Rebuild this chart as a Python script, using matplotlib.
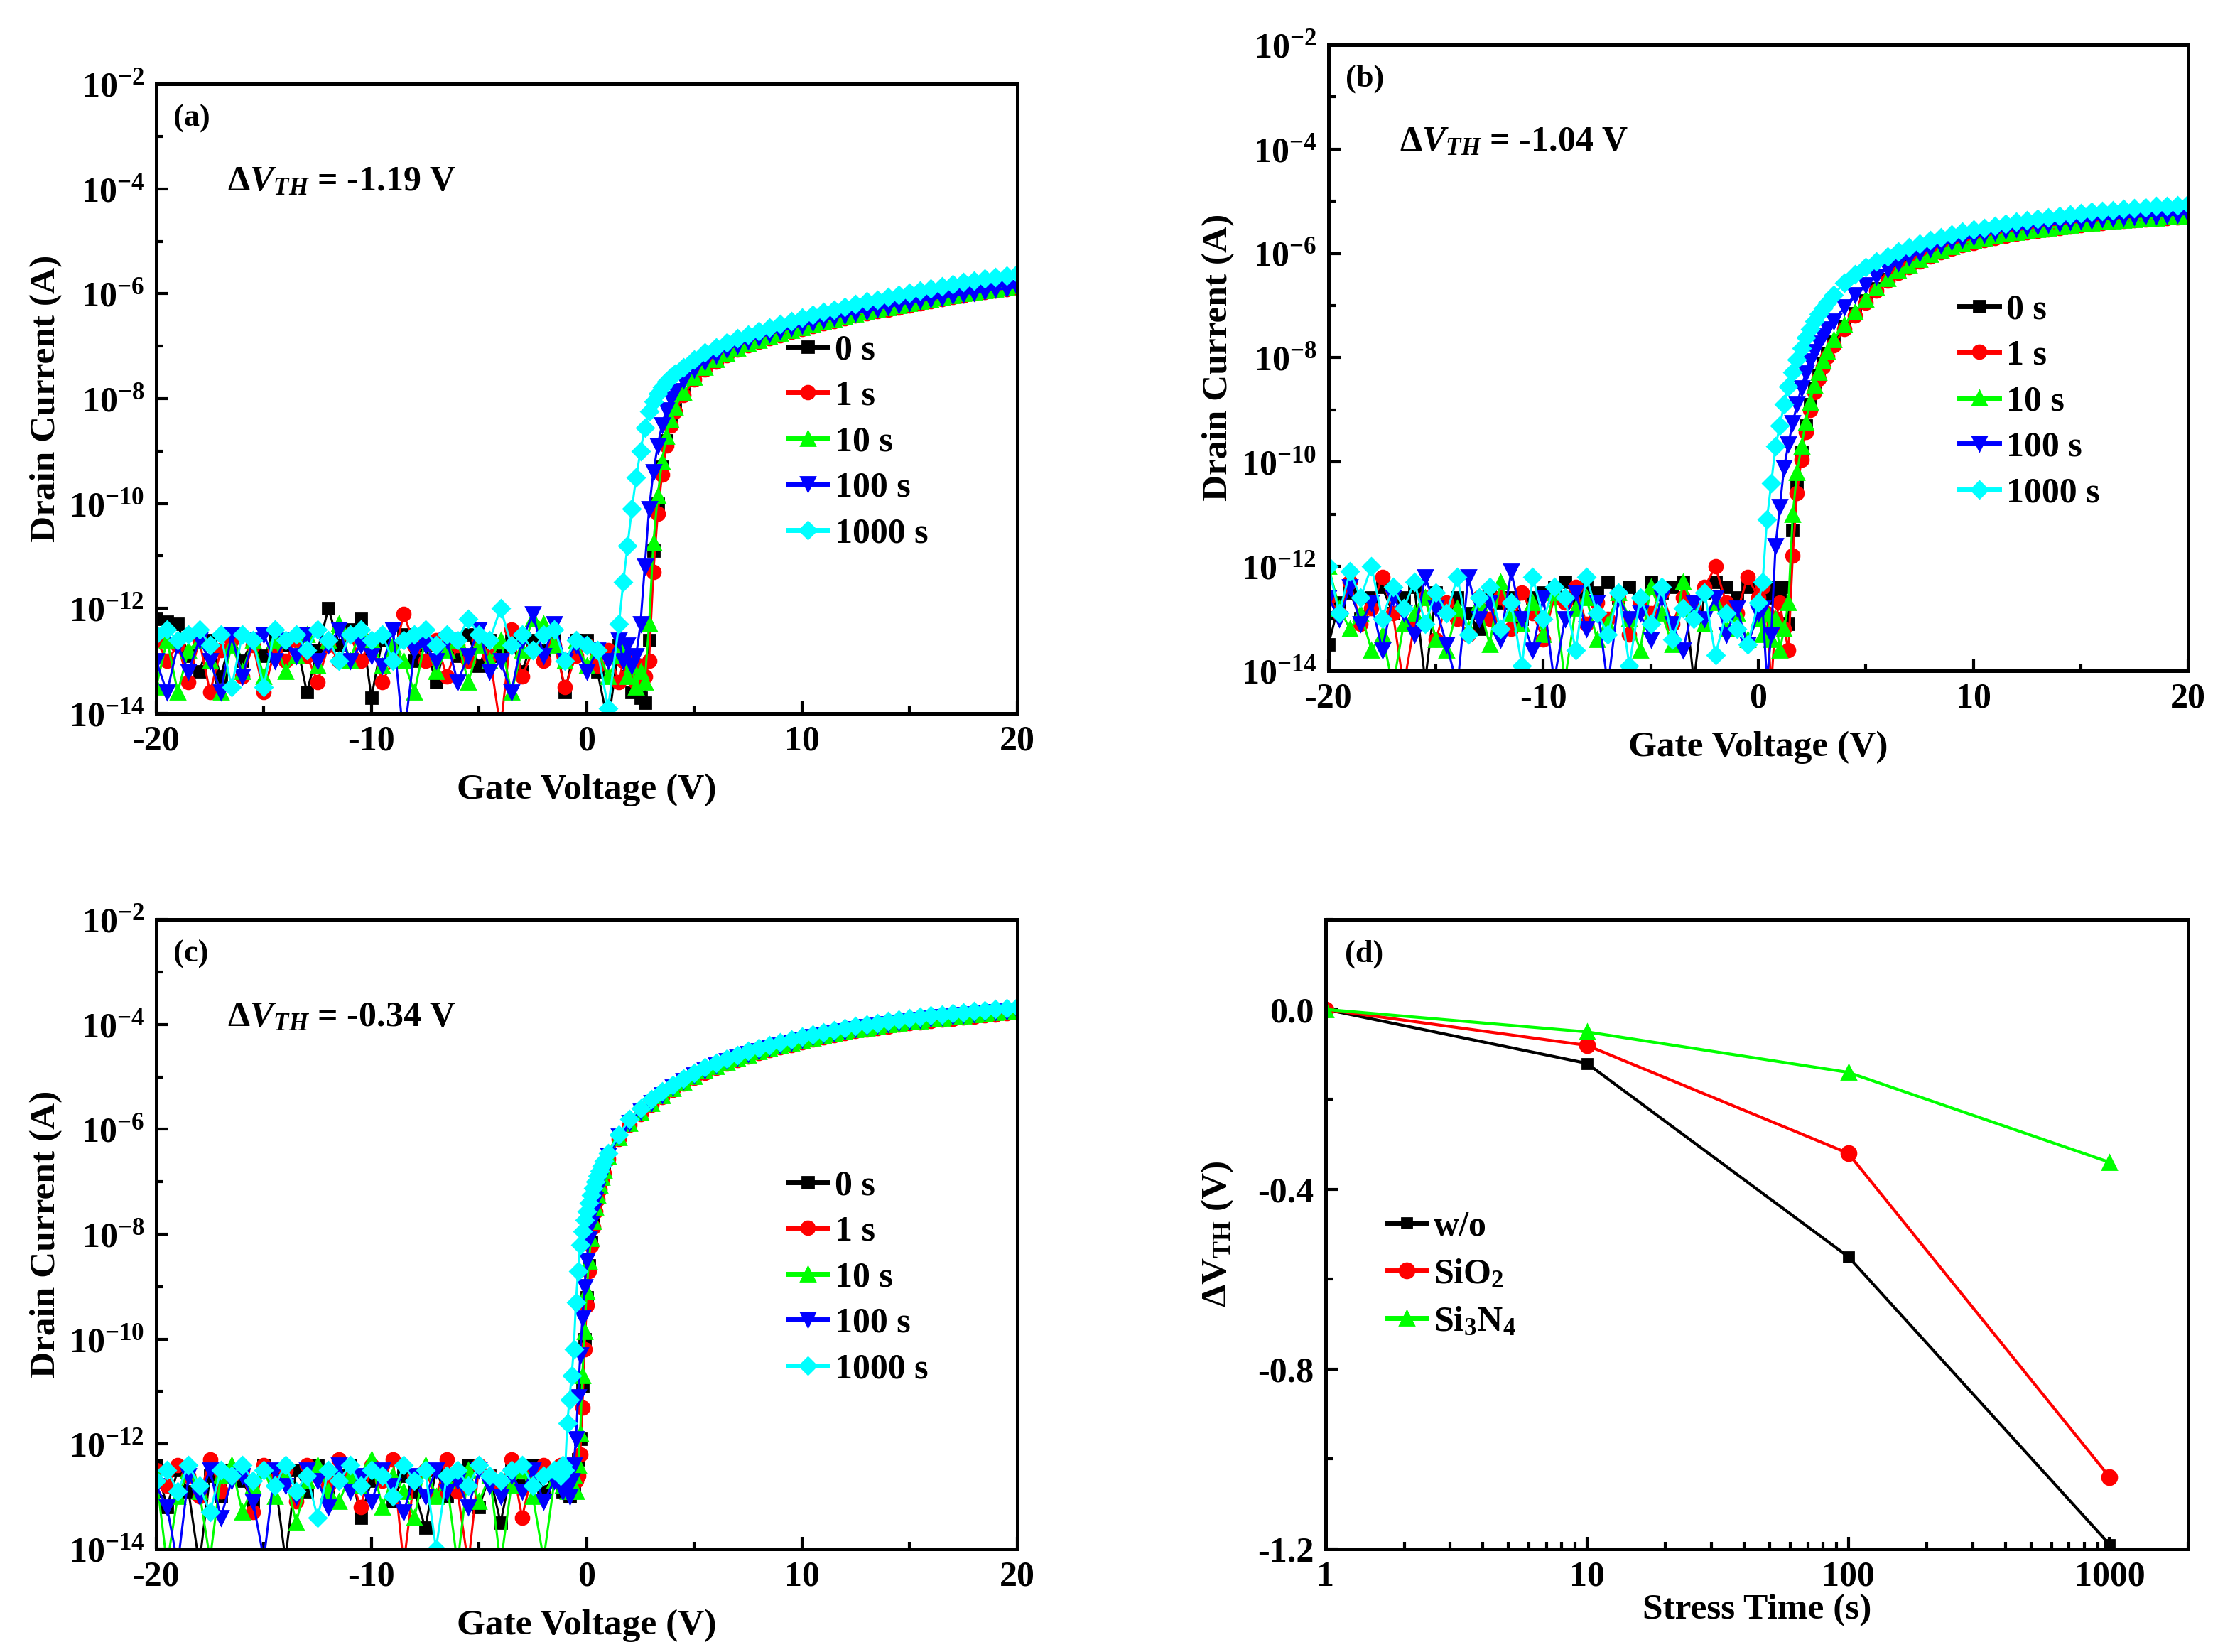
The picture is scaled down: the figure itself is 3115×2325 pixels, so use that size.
import numpy as np
import matplotlib
matplotlib.use("Agg")
import matplotlib.pyplot as plt
from matplotlib import ticker

plt.rcParams["font.family"] = ["Liberation Serif", "DejaVu Serif"]
plt.rcParams["font.weight"] = "bold"
plt.rcParams["axes.labelweight"] = "bold"
plt.rcParams["mathtext.fontset"] = "custom"
plt.rcParams["mathtext.rm"] = "Liberation Serif:bold"
plt.rcParams["mathtext.bf"] = "Liberation Serif:bold"
plt.rcParams["mathtext.it"] = "Liberation Serif:italic:bold"
plt.rcParams["axes.unicode_minus"] = False

# gate sweeps (V): coarse off-state, fine around turn-on, coarse on-state
vg_a = np.concatenate([np.linspace(-20, 1.5, 44), np.linspace(1.7, 4.1, 13), np.linspace(4.5, 20, 32)])
vg_b = np.concatenate([np.linspace(-20, 0, 41), np.linspace(0.2, 3.2, 16), np.linspace(3.5, 20, 34)])
vg_c = np.concatenate([np.linspace(-20, -1.5, 38), np.linspace(-1.2, 0.8, 21), np.linspace(1.0, 20, 39)])

stress_labels = ["0 s", "1 s", "10 s", "100 s", "1000 s"]

# log10(drain current / A)
# ---- (a) w/o ----
a_0s = [-12.2, -12.25, -12.3, -12.9, -13.2, -12.6, -13.3, -12.5, -13.0, -12.6,
        -12.9, -12.5, -12.7, -12.6, -13.6, -12.8, -12.0, -12.7, -12.4, -12.2,
        -13.7, -12.6, -12.8, -12.5, -13.0, -12.7, -13.4, -12.6, -12.9, -12.5,
        -13.1, -12.6, -12.9, -12.6, -13.2, -12.6, -12.8, -12.5, -13.6, -12.6,
        -12.6, -13.2, -14.2, -12.7,
        -12.9, -13.3, -13.6, -13.5, -13.7, -13.8, -12.6, -10.9, -10.0, -9.3, -8.8, -8.45, -8.2,
        -7.9, -7.62, -7.42, -7.27, -7.15, -7.05, -6.97, -6.9, -6.83, -6.77,
        -6.71, -6.65, -6.6, -6.55, -6.5, -6.45, -6.4, -6.36, -6.32, -6.28,
        -6.24, -6.2, -6.16, -6.12, -6.08, -6.04, -6.01, -5.98, -5.95, -5.92,
        -5.89, -5.86]
a_1s = [-12.6, -13.0, -12.7, -13.4, -12.6, -13.6, -12.8, -12.6, -13.3, -12.7,
        -13.6, -12.8, -13.0, -12.6, -12.9, -13.4, -12.7, -13.0, -12.5, -13.0,
        -12.6, -13.4, -13.0, -12.1, -12.7, -13.0, -12.6, -13.3, -12.7, -13.0,
        -12.6, -12.9, -14.3, -12.4, -13.3, -12.8, -13.0, -12.7, -13.5, -12.9,
        -12.7, -13.1, -12.8, -13.4,
        -13.0, -13.3, -12.9, -13.4, -13.1, -13.3, -13.0, -11.3, -10.2, -9.45, -8.9, -8.52, -8.25,
        -7.93, -7.64, -7.44, -7.29, -7.17, -7.07, -6.99, -6.92, -6.85, -6.79,
        -6.73, -6.67, -6.62, -6.57, -6.52, -6.47, -6.42, -6.38, -6.34, -6.3,
        -6.26, -6.22, -6.18, -6.14, -6.1, -6.06, -6.03, -6.0, -5.97, -5.94,
        -5.91, -5.88]
a_10s = [-13.5, -12.6, -13.6, -12.8, -12.6, -13.0, -13.6, -12.7, -13.2, -12.6,
         -13.3, -12.6, -13.2, -12.9, -12.5, -13.1, -12.6, -12.3, -13.0, -12.4,
         -12.6, -13.1, -12.7, -13.0, -13.6, -12.6, -13.2, -12.8, -12.6, -13.4,
         -12.7, -13.0, -12.6, -13.6, -12.8, -12.2, -12.3, -12.7, -13.0, -12.6,
         -13.1, -12.8, -13.3, -12.9,
         -12.7, -13.3, -13.1, -13.5, -13.2, -13.4, -12.3, -10.75, -9.85, -9.2, -8.72, -8.4, -8.16,
         -7.88, -7.6, -7.41, -7.26, -7.14, -7.04, -6.96, -6.89, -6.82, -6.76,
         -6.7, -6.64, -6.59, -6.54, -6.49, -6.44, -6.39, -6.35, -6.31, -6.27,
         -6.23, -6.19, -6.15, -6.11, -6.07, -6.03, -6.0, -5.97, -5.94, -5.91,
         -5.88, -5.85]
a_100s = [-13.0, -13.6, -12.7, -13.2, -12.6, -13.0, -13.6, -12.5, -13.3, -12.6,
          -12.5, -13.0, -12.6, -12.9, -12.5, -13.0, -12.7, -12.4, -13.0, -12.7,
          -12.9, -13.1, -12.4, -14.5, -12.8, -12.7, -13.0, -12.6, -13.4, -12.9,
          -12.4, -13.2, -13.0, -13.6, -12.6, -12.1, -12.9, -12.3, -13.0, -12.7,
          -13.2, -12.8, -13.0, -12.6,
          -13.0, -12.7, -13.1, -12.9, -12.3, -11.2, -10.1, -9.4, -8.9, -8.5, -8.22, -8.0, -7.85,
          -7.65, -7.45, -7.3, -7.17, -7.07, -6.98, -6.9, -6.83, -6.77, -6.71,
          -6.65, -6.6, -6.55, -6.5, -6.45, -6.41, -6.37, -6.33, -6.29, -6.25,
          -6.21, -6.17, -6.13, -6.1, -6.07, -6.04, -6.01, -5.98, -5.95, -5.92,
          -5.9, -5.88]
a_1000s = [-12.5, -12.4, -12.6, -12.5, -12.4, -12.7, -12.5, -13.5, -12.5, -12.6,
           -13.5, -12.4, -12.6, -12.5, -12.8, -12.4, -12.6, -13.0, -12.5, -12.4,
           -12.6, -12.5, -13.0, -12.6, -12.5, -12.4, -12.7, -12.5, -12.6, -12.2,
           -12.5, -12.6, -12.0, -12.7, -12.5, -12.8, -12.5, -12.4, -13.0, -12.6,
           -12.7, -12.8, -13.9, -12.3,
           -11.5, -10.8, -10.1, -9.5, -9.0, -8.55, -8.25, -8.05, -7.9, -7.78, -7.68, -7.6, -7.52,
           -7.4, -7.25, -7.12, -7.02, -6.93, -6.85, -6.78, -6.71, -6.64, -6.58,
           -6.52, -6.46, -6.4, -6.35, -6.3, -6.25, -6.2, -6.15, -6.11, -6.06,
           -6.02, -5.98, -5.94, -5.9, -5.86, -5.82, -5.78, -5.75, -5.71, -5.68,
           -5.65, -5.62]

# ---- (b) SiO2 ----
b_0s = [-13.5, -12.7, -12.5, -13.0, -12.6, -12.4, -12.9, -12.6, -12.4, -14.2,
        -12.5, -12.7, -12.6, -12.9, -13.2, -12.5, -12.7, -12.6, -13.0, -12.6,
        -12.5, -12.4, -12.3, -12.6, -12.4, -12.5, -12.3, -12.6, -12.4, -12.7,
        -12.3, -12.5, -12.4, -12.3, -14.2, -12.5, -12.3, -12.4, -12.6, -12.4,
        -12.5,
        -12.5, -12.6, -12.4, -12.5, -12.6, -12.4, -13.1, -11.3, -10.4, -9.8, -9.3, -8.9, -8.58, -8.33, -8.1, -7.92,
        -7.7, -7.4, -7.15, -6.9, -6.68, -6.5, -6.36, -6.24, -6.13, -6.04,
        -5.96, -5.89, -5.83, -5.78, -5.73, -5.69, -5.65, -5.61, -5.58, -5.55,
        -5.52, -5.5, -5.47, -5.45, -5.43, -5.41, -5.39, -5.37, -5.36, -5.34,
        -5.33, -5.31, -5.3, -5.29]
b_1s = [-12.6, -12.9, -12.3, -13.1, -12.8, -12.2, -12.9, -14.3, -13.1, -12.6,
        -13.4, -12.7, -13.0, -13.3, -12.6, -13.0, -12.6, -13.2, -12.5, -12.9,
        -13.4, -12.6, -12.7, -12.4, -13.1, -12.7, -13.0, -12.6, -13.3, -12.7,
        -12.9, -12.5, -13.1, -12.6, -12.8, -12.4, -12.0, -12.7, -12.9, -12.2,
        -12.6,
        -12.4, -12.9, -14.3, -13.0, -12.7, -13.2, -13.6, -11.8, -10.6, -9.95, -9.42, -9.0, -8.66, -8.4, -8.17, -7.98,
        -7.76, -7.45, -7.19, -6.94, -6.71, -6.53, -6.38, -6.26, -6.15, -6.06,
        -5.98, -5.91, -5.85, -5.8, -5.75, -5.71, -5.67, -5.63, -5.6, -5.57,
        -5.54, -5.51, -5.49, -5.46, -5.44, -5.42, -5.4, -5.38, -5.37, -5.35,
        -5.34, -5.32, -5.31, -5.3]
b_10s = [-12.0, -12.8, -13.2, -12.9, -13.6, -13.3, -14.3, -13.1, -12.9, -12.6,
         -13.4, -13.6, -12.8, -13.2, -12.7, -13.5, -12.3, -12.9, -13.1, -12.7,
         -13.3, -12.5, -14.2, -12.8, -12.6, -13.4, -13.1, -12.5, -13.0, -13.6,
         -12.4, -12.9, -13.5, -12.3, -12.8, -13.1, -12.7, -13.2, -12.9, -13.4,
         -13.0,
         -13.3, -12.9, -13.4, -13.0, -13.6, -13.2, -12.7, -11.0, -10.2, -9.7, -9.25, -8.85, -8.53, -8.28, -8.06, -7.88,
         -7.66, -7.37, -7.12, -6.88, -6.66, -6.48, -6.34, -6.22, -6.11, -6.02,
         -5.94, -5.87, -5.81, -5.76, -5.71, -5.67, -5.63, -5.6, -5.57, -5.54,
         -5.51, -5.49, -5.46, -5.44, -5.42, -5.4, -5.38, -5.36, -5.35, -5.33,
         -5.32, -5.3, -5.29, -5.28]
b_100s = [-12.6, -13.0, -12.4, -13.1, -12.7, -13.6, -12.6, -12.9, -13.3, -12.2,
          -12.8, -13.5, -14.3, -12.2, -13.0, -12.7, -13.4, -12.1, -13.0, -13.6,
          -12.6, -14.2, -13.0, -12.5, -13.2, -12.7, -14.3, -12.6, -13.0, -12.9,
          -13.4, -12.6, -13.1, -13.6, -12.7, -13.0, -12.6, -13.3, -12.8, -13.5,
          -12.9,
          -12.8, -14.2, -13.3, -11.6, -10.85, -10.1, -9.65, -9.25, -8.9, -8.58, -8.3, -8.06, -7.88, -7.72, -7.58, -7.45,
          -7.3, -7.03, -6.8, -6.6, -6.44, -6.3, -6.18, -6.08, -5.99, -5.91,
          -5.84, -5.78, -5.73, -5.68, -5.64, -5.6, -5.56, -5.53, -5.5, -5.47,
          -5.45, -5.42, -5.4, -5.38, -5.36, -5.34, -5.33, -5.31, -5.3, -5.29,
          -5.28, -5.27, -5.26, -5.25]
b_1000s = [-12.0, -12.9, -12.1, -12.6, -12.0, -13.0, -12.4, -12.8, -12.3, -13.1,
           -12.5, -12.9, -12.2, -13.3, -12.6, -12.4, -13.2, -12.7, -13.9, -12.2,
           -13.0, -12.4, -12.6, -13.6, -12.2, -12.9, -13.3, -12.5, -13.9, -12.6,
           -13.1, -12.4, -13.4, -12.8, -13.0, -12.5, -13.7, -12.9, -13.2, -13.5,
           -12.7,
           -12.3, -11.1, -10.4, -9.7, -9.3, -8.9, -8.55, -8.28, -8.04, -7.82, -7.62, -7.45, -7.3, -7.17, -7.05, -6.94,
           -6.8, -6.56, -6.4, -6.27, -6.16, -6.06, -5.97, -5.89, -5.82, -5.75,
           -5.69, -5.64, -5.59, -5.55, -5.51, -5.47, -5.43, -5.4, -5.37, -5.34,
           -5.31, -5.28, -5.26, -5.23, -5.21, -5.19, -5.17, -5.15, -5.13, -5.12,
           -5.1, -5.09, -5.08, -5.06]

# ---- (c) Si3N4 ----
c_0s = [-12.4, -13.2, -12.5, -12.9, -14.3, -12.6, -13.0, -12.5, -12.7, -13.1,
        -12.4, -12.6, -14.2, -12.5, -12.9, -12.4, -13.0, -12.6, -12.4, -13.4,
        -12.7, -12.5, -13.1, -12.6, -12.9, -13.6, -12.5, -13.0, -12.7, -12.4,
        -13.2, -12.6, -13.5, -12.5, -12.8, -12.4, -12.9, -12.6,
        -12.6, -12.9, -12.7, -12.8, -13.0, -12.9, -12.8, -12.5, -12.3, -11.9, -10.9,
        -10.0, -9.2, -8.6, -8.15, -7.8, -7.52, -7.3, -7.1, -6.94, -6.8,
        -6.55, -6.17, -5.9, -5.69, -5.52, -5.37, -5.23, -5.11, -5.0, -4.9,
        -4.81, -4.73, -4.66, -4.59, -4.53, -4.47, -4.42, -4.37, -4.32, -4.27,
        -4.23, -4.19, -4.15, -4.11, -4.08, -4.05, -4.02, -3.99, -3.96, -3.94,
        -3.91, -3.89, -3.87, -3.85, -3.83, -3.81, -3.79, -3.77, -3.75]
c_1s = [-12.5, -12.8, -12.4, -12.6, -13.0, -12.3, -12.9, -12.6, -12.5, -13.3,
        -12.4, -12.7, -12.5, -13.1, -12.4, -12.6, -12.8, -12.3, -12.6, -13.2,
        -12.4, -12.7, -12.3, -14.3, -12.6, -12.5, -13.0, -12.3, -12.9, -14.3,
        -12.4, -12.6, -12.8, -12.3, -13.4, -12.5, -12.4, -12.6,
        -12.4, -12.6, -12.5, -12.7, -12.4, -12.6, -12.5, -12.7, -12.6, -12.2, -11.3,
        -10.2, -9.35, -8.7, -8.22, -7.86, -7.57, -7.34, -7.14, -6.97, -6.83,
        -6.57, -6.19, -5.92, -5.71, -5.54, -5.39, -5.25, -5.13, -5.02, -4.92,
        -4.83, -4.75, -4.68, -4.61, -4.55, -4.49, -4.44, -4.39, -4.34, -4.29,
        -4.25, -4.21, -4.17, -4.13, -4.1, -4.07, -4.04, -4.01, -3.98, -3.96,
        -3.93, -3.91, -3.89, -3.87, -3.85, -3.83, -3.81, -3.79, -3.77]
c_10s = [-12.6, -14.3, -13.0, -12.5, -12.9, -14.2, -12.6, -12.4, -13.3, -12.8,
         -12.5, -13.0, -12.6, -13.5, -12.7, -12.4, -12.9, -13.1, -12.6, -12.8,
         -12.3, -13.2, -12.6, -12.9, -13.4, -12.4, -13.0, -12.7, -14.3, -12.5,
         -13.1, -12.6, -14.3, -12.8, -12.5, -13.0, -14.2, -12.7,
         -12.5, -12.8, -12.6, -12.9, -12.7, -12.8, -12.6, -12.9, -12.4, -11.8, -10.7,
         -9.85, -9.1, -8.52, -8.08, -7.75, -7.48, -7.26, -7.07, -6.92, -6.78,
         -6.53, -6.16, -5.89, -5.68, -5.51, -5.36, -5.22, -5.1, -4.99, -4.89,
         -4.8, -4.72, -4.65, -4.58, -4.52, -4.46, -4.41, -4.36, -4.31, -4.26,
         -4.22, -4.18, -4.14, -4.1, -4.07, -4.04, -4.01, -3.98, -3.95, -3.93,
         -3.9, -3.88, -3.86, -3.84, -3.82, -3.8, -3.78, -3.76, -3.74]
c_100s = [-12.8, -13.2, -14.3, -12.6, -13.0, -12.5, -13.4, -12.7, -12.6, -13.1,
          -14.2, -12.5, -12.8, -13.0, -12.5, -12.7, -13.2, -12.4, -12.9, -12.6,
          -13.1, -12.5, -12.8, -13.3, -12.6, -13.0, -12.5, -12.9, -12.7, -13.2,
          -12.5, -12.8, -13.0, -12.6, -12.9, -12.5, -13.1, -12.7,
          -12.7, -12.9, -12.6, -12.8, -13.0, -12.7, -12.4, -11.9, -11.1, -10.3, -9.6,
          -9.0, -8.5, -8.1, -7.8, -7.55, -7.33, -7.15, -6.99, -6.86, -6.74,
          -6.5, -6.13, -5.87, -5.66, -5.49, -5.34, -5.2, -5.08, -4.97, -4.87,
          -4.78, -4.7, -4.63, -4.56, -4.5, -4.44, -4.39, -4.34, -4.29, -4.24,
          -4.2, -4.16, -4.12, -4.08, -4.05, -4.02, -3.99, -3.96, -3.93, -3.91,
          -3.88, -3.86, -3.84, -3.82, -3.8, -3.78, -3.76, -3.74, -3.73]
c_1000s = [-12.7, -12.5, -12.9, -12.4, -12.8, -13.3, -12.5, -12.6, -12.4, -12.7,
           -12.5, -12.8, -12.4, -12.9, -12.6, -13.4, -12.5, -12.7, -12.4, -12.8,
           -12.5, -12.6, -13.0, -12.4, -12.7, -12.5, -14.0, -12.6, -12.5, -12.8,
           -12.4, -12.6, -12.7, -12.5, -12.4, -12.8, -12.6, -12.5,
           -12.6, -12.4, -12.5, -11.6, -11.15, -10.7, -10.2, -9.3, -8.7, -8.2, -7.95,
           -7.73, -7.56, -7.4, -7.25, -7.12, -7.0, -6.89, -6.79, -6.7, -6.61,
           -6.45, -6.1, -5.8, -5.6, -5.43, -5.28, -5.15, -5.03, -4.92, -4.82,
           -4.73, -4.65, -4.58, -4.51, -4.45, -4.39, -4.34, -4.29, -4.24, -4.19,
           -4.15, -4.11, -4.07, -4.03, -4.0, -3.97, -3.94, -3.91, -3.88, -3.86,
           -3.83, -3.81, -3.79, -3.77, -3.75, -3.73, -3.71, -3.69, -3.67]

# ---- (d) threshold shift vs stress time ----
stress_t = [1, 10, 100, 1000]
dvth_wo = [0.0, -0.12, -0.55, -1.19]
dvth_sio2 = [0.0, -0.08, -0.32, -1.04]
dvth_si3n4 = [0.0, -0.05, -0.14, -0.34]

colors = ["#000000", "#ff0000", "#00ff00", "#0000ff", "#00ffff"]
markers = ["s", "o", "^", "v", "D"]
msizes = [6, 6.8, 7.2, 7.2, 6.2]

TICK_FS = 18
LABEL_FS = 18.5
LEG_FS = 18

fig = plt.figure(figsize=(15.575, 11.625), dpi=200)
ax_a = fig.add_axes([0.0706, 0.5682, 0.389, 0.381])
ax_b = fig.add_axes([0.6003, 0.594, 0.3885, 0.379])
ax_c = fig.add_axes([0.0706, 0.0624, 0.389, 0.381])
ax_d = fig.add_axes([0.599, 0.0624, 0.3898, 0.381])


def style_frame(ax):
    for s in ax.spines.values():
        s.set_linewidth(1.8)
    ax.tick_params(which="both", direction="in", top=False, right=False,
                   labelsize=TICK_FS, width=1.5)
    ax.tick_params(which="major", length=6, pad=6)
    ax.tick_params(which="minor", length=3.5)


def iv_panel(ax, vg, series, tag, shift):
    for logi, c, m, ms, lab in zip(series, colors, markers, msizes, stress_labels):
        assert len(logi) == len(vg), (tag, lab, len(logi), len(vg))
        ax.plot(vg, 10.0 ** np.array(logi), color=c, marker=m, ms=ms, lw=1.1,
                mec=c, label=lab)
    ax.set_yscale("log")
    ax.set_ylim(1e-14, 1e-2)
    ax.set_xlim(-20, 20)
    ax.yaxis.set_major_locator(ticker.FixedLocator([1e-14, 1e-12, 1e-10, 1e-8, 1e-6, 1e-4, 1e-2]))
    ax.yaxis.set_major_formatter(ticker.LogFormatterMathtext())
    ax.yaxis.set_minor_locator(ticker.FixedLocator([1e-13, 1e-11, 1e-9, 1e-7, 1e-5, 1e-3]))
    ax.yaxis.set_minor_formatter(ticker.NullFormatter())
    ax.xaxis.set_major_locator(ticker.MultipleLocator(10))
    ax.xaxis.set_minor_locator(ticker.MultipleLocator(5))
    style_frame(ax)
    ax.set_xlabel("Gate Voltage (V)", fontsize=LABEL_FS, labelpad=8)
    ax.set_ylabel("Drain Current (A)", fontsize=LABEL_FS, labelpad=3)
    ax.text(0.02, 0.945, tag, transform=ax.transAxes, fontsize=16, va="center")
    ax.text(0.083, 0.844, r"$\mathit{\Delta V}_{\mathit{TH}}$ = " + shift + " V",
            transform=ax.transAxes, fontsize=18, va="center")
    leg = ax.legend(loc="upper left", bbox_to_anchor=(0.717, 0.625), frameon=False,
                    fontsize=LEG_FS, handlelength=1.12, handletextpad=0.2,
                    labelspacing=0.37, borderaxespad=0)
    for h in leg.legend_handles:
        h.set_linewidth(2.5)


iv_panel(ax_a, vg_a, [a_0s, a_1s, a_10s, a_100s, a_1000s], "(a)", "-1.19")
iv_panel(ax_b, vg_b, [b_0s, b_1s, b_10s, b_100s, b_1000s], "(b)", "-1.04")
iv_panel(ax_c, vg_c, [c_0s, c_1s, c_10s, c_100s, c_1000s], "(c)", "-0.34")

# ---- (d) ----
ax_d.plot(stress_t, dvth_wo, color="#000000", marker="s", ms=5, lw=1.5, label="w/o")
ax_d.plot(stress_t, dvth_sio2, color="#ff0000", marker="o", ms=7.5, lw=1.5, label=r"SiO$_2$")
ax_d.plot(stress_t, dvth_si3n4, color="#00ff00", marker="^", ms=7.5, lw=1.5, label=r"Si$_3$N$_4$")
ax_d.set_xscale("log")
ax_d.set_xlim(1, 2000)
ax_d.set_ylim(-1.2, 0.2)
ax_d.xaxis.set_major_locator(ticker.FixedLocator([1, 10, 100, 1000]))
ax_d.xaxis.set_major_formatter(ticker.FixedFormatter(["1", "10", "100", "1000"]))
ax_d.xaxis.set_minor_locator(ticker.LogLocator(base=10.0, subs=np.arange(2, 10), numticks=20))
ax_d.xaxis.set_minor_formatter(ticker.NullFormatter())
ax_d.yaxis.set_major_locator(ticker.FixedLocator([-1.2, -0.8, -0.4, 0.0]))
ax_d.yaxis.set_major_formatter(ticker.FormatStrFormatter("%.1f"))
ax_d.yaxis.set_minor_locator(ticker.FixedLocator([-1.0, -0.6, -0.2, 0.2]))
style_frame(ax_d)
ax_d.set_xlabel("Stress Time (s)", fontsize=LABEL_FS, labelpad=0)
ax_d.set_ylabel(r"$\Delta$V$_{\rm TH}$ (V)", fontsize=LABEL_FS, labelpad=11)
ax_d.text(0.022, 0.945, "(d)", transform=ax_d.transAxes, fontsize=16, va="center")
leg = ax_d.legend(loc="upper left", bbox_to_anchor=(0.055, 0.56), frameon=False,
                  fontsize=LEG_FS, handlelength=1.1, handletextpad=0.2,
                  labelspacing=0.42, borderaxespad=0)
for h in leg.legend_handles:
    h.set_linewidth(2.5)

fig.savefig("out.png", dpi=200)
